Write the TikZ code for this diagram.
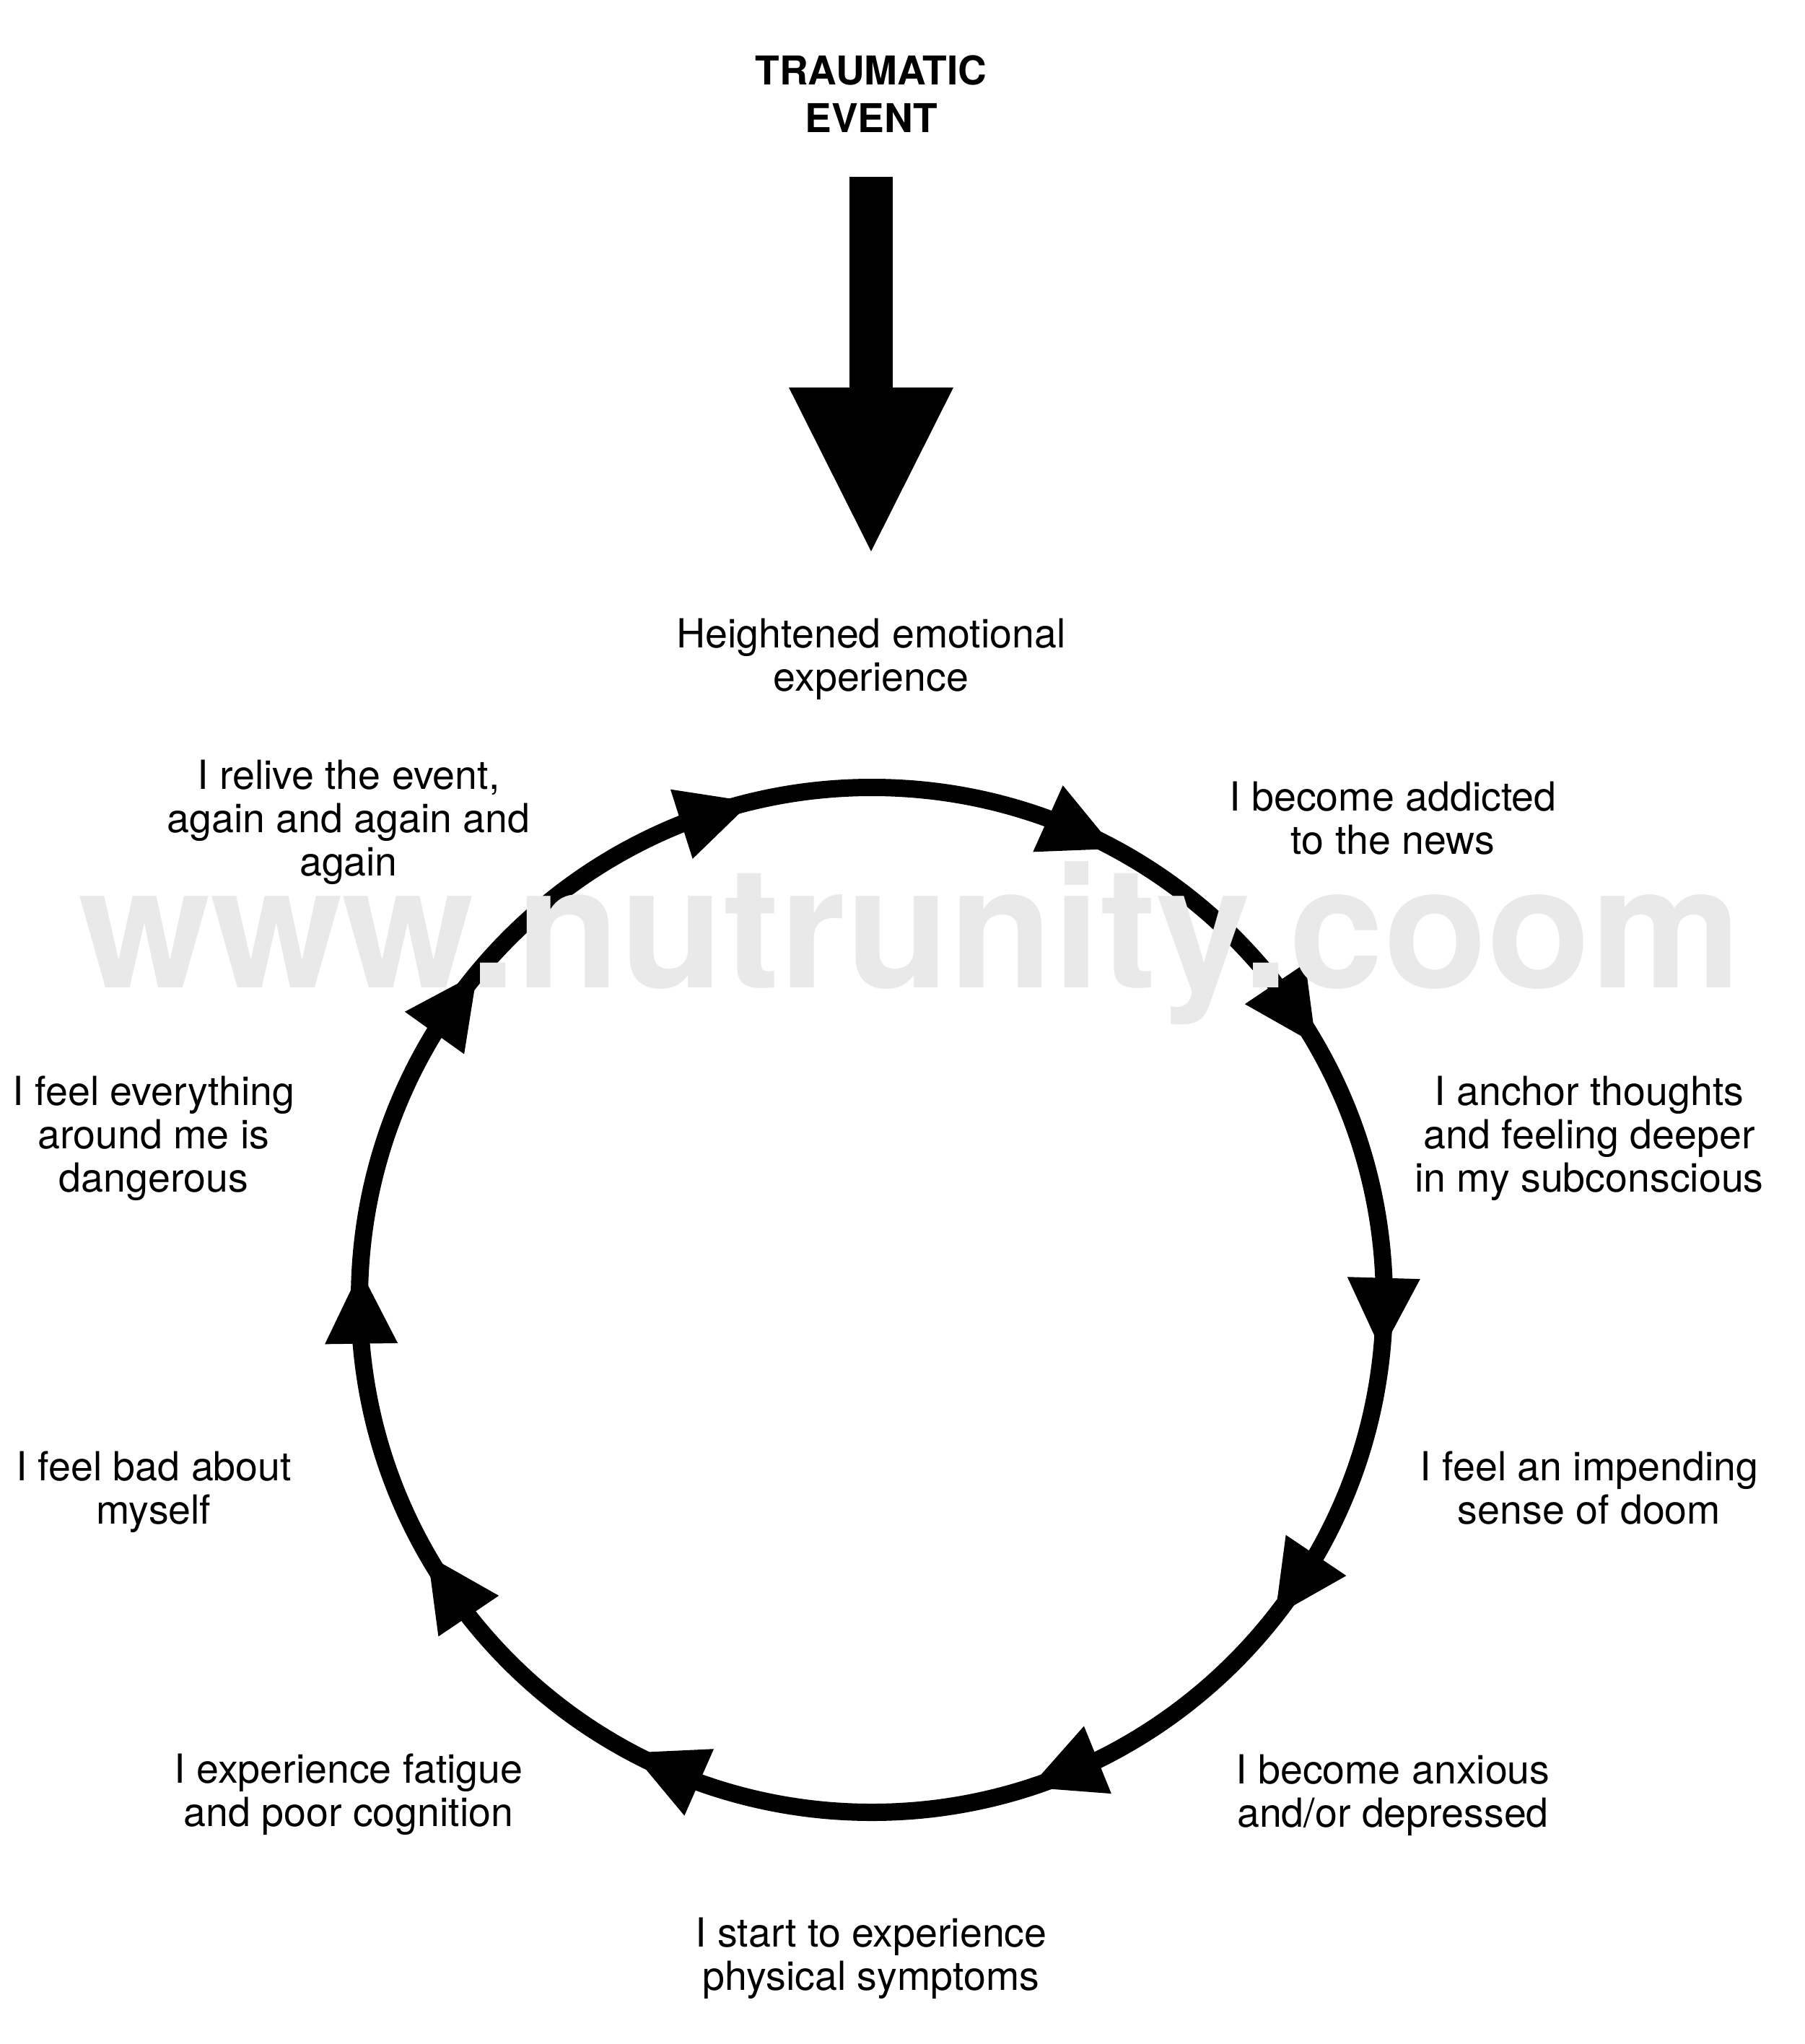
\documentclass[tikz,border=0pt]{standalone}
\usepackage{fontspec}
\setmainfont{TeX Gyre Heros}
\usepackage{tikz}
\usetikzlibrary{arrows.meta,calc}
\definecolor{markgray}{HTML}{E9E9E9}

\begin{document}
\begin{tikzpicture}[
    lbl/.style={align=center,inner sep=0pt,anchor=base,font=\fontsize{15.8}{17.07}\selectfont},
    headtxt/.style={align=center,inner sep=0pt,anchor=base,font=\fontsize{15.65}{18.78}\selectfont\bfseries},
    ring/.style={line width=0.24cm},
    bigarrow/.style={line width=0.6cm,-{Triangle[length=2.27cm,width=2.28cm,line width=0pt]}}]
  \useasboundingbox (0,0) rectangle (25,-28.32);
  \coordinate (c) at (12.08,-18.01);

  % the cycle
  \draw[ring] (c) circle (7.1);
  \foreach \a in {111.8,69.9,38.1,2.45,-29.9,-63.85,-109.7,-141.9,-175.1,148.6} {
    \coordinate (b) at ($(c)+(\a:7.1)$);
    \coordinate (t) at ($(c)+(\a-8.2:7.1)$);
    \fill ($(b)!0.505cm!90:(t)$) -- (t) -- ($(b)!0.505cm!-90:(t)$) -- cycle;
  }

  % watermark
  \node[inner sep=0pt,anchor=base,text=markgray,font=\fontsize{66.8}{70}\selectfont\bfseries] (mark)
    at (12.61,-13.68) {www.nutrunity.coom};

  \node[headtxt] (event) at (12.07,-1.84) {TRAUMATIC\\EVENT};
  \node[lbl] (heightened) at (12.07,-9.57) {Heightened emotional\\experience};
  \node[lbl] (news) at (19.30,-11.83) {I become addicted\\to the news};
  \node[lbl] (anchor) at (22.02,-16.51) {I anchor thoughts\\and feeling deeper\\in my subconscious};
  \node[lbl] (doom) at (22.02,-21.11) {I feel an impending\\sense of doom};
  \node[lbl] (anxious) at (19.30,-25.31) {I become anxious\\and/or depressed};
  \node[lbl] (physical) at (12.07,-27.57) {I start to experience\\physical symptoms};
  \node[lbl] (fatigue) at (4.83,-25.30) {I experience fatigue\\and poor cognition};
  \node[lbl] (selfimage) at (2.13,-21.11) {I feel bad about\\myself};
  \node[lbl] (danger) at (2.13,-16.51) {I feel everything\\around me is\\dangerous};
  \node[lbl] (relive) at (4.83,-12.13) {I relive the event,\\again and again and\\again};

  \draw[bigarrow,shorten <=0.6cm,shorten >=0.92cm] (event.south) -- (heightened.north);
\end{tikzpicture}
\end{document}
